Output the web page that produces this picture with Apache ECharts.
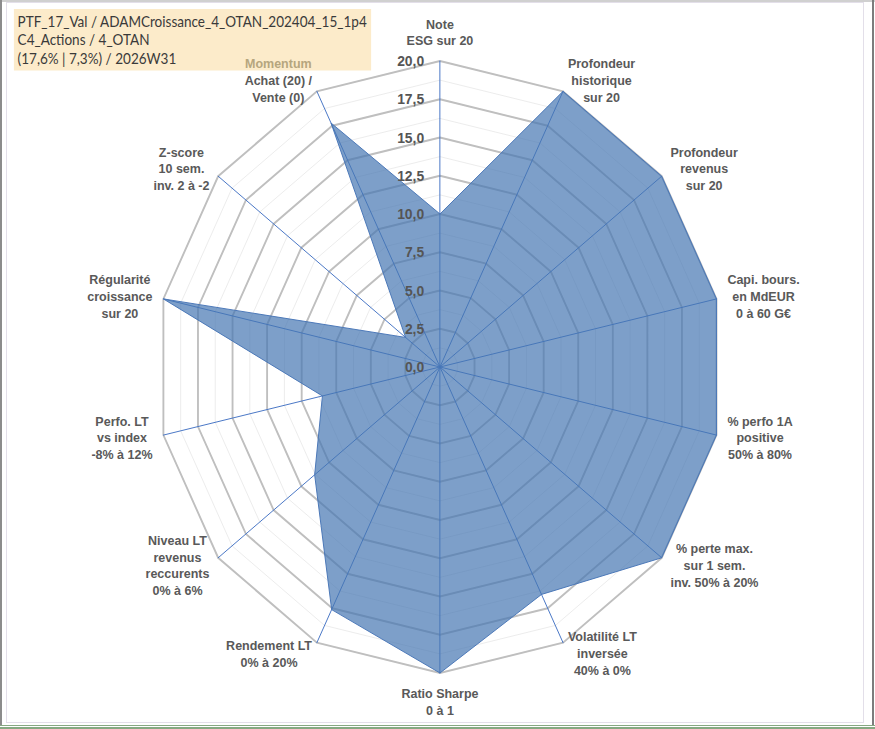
<!DOCTYPE html>
<html>
<head>
<meta charset="utf-8">
<script src="https://cdn.jsdelivr.net/npm/echarts@6.0.0/dist/echarts.min.js"></script>
<style>
html, body { margin: 0; padding: 0; background: #fff; overflow: hidden; }
#frame { position: relative; width: 875px; height: 729px; overflow: hidden; background: #fff; }
/* le graphique Excel d'origine est légèrement écrasé en largeur */
#radarChart { position: absolute; left: 0; top: 0; width: 944px; height: 729px; transform: scaleX(0.927); transform-origin: 0 0; }
.edge { position: absolute; pointer-events: none; box-sizing: border-box; }
</style>
</head>
<body>
<div id="frame">
	<div id="radarChart"></div>
	<div class="edge" style="left:6px;top:2px;width:858px;height:721px;border:1px solid #e3dfe9;"></div>
	<div class="edge" style="left:0;top:0;width:875px;height:2px;background:#d0d0d0;"></div>
	<div class="edge" style="left:0;top:0;width:2px;height:726px;background:#8c8c8c;"></div>
	<div class="edge" style="left:872px;top:0;width:2px;height:726px;background:#7c7c7c;"></div>
	<div class="edge" style="left:0;top:725px;width:875px;height:1px;background:#86a982;"></div>
	<div class="edge" style="left:0;top:727px;width:875px;height:2px;background:#86a982;"></div>
</div>
<script>
// cartouche du titre
var titleLines = [
	'PTF_17_Val / ADAMCroissance_4_OTAN_202404_15_1p4',
	'C4_Actions / 4_OTAN',
	'(17,6% | 7,3%) / 2026W31'
];
// axes du radar, dans l'ordre Excel (sens horaire depuis le haut)
var axisNames = [
	'Note\nESG sur 20',
	'Profondeur\nhistorique\nsur 20',
	'Profondeur\nrevenus\nsur 20',
	'Capi. bours.\nen MdEUR\n0 à 60 G€',
	'% perfo 1A\npositive\n50% à 80%',
	'% perte max.\nsur 1 sem.\ninv. 50% à 20%',
	'Volatilité LT\ninversée\n40% à 0%',
	'Ratio Sharpe\n0 à 1',
	'Rendement LT\n0% à 20%',
	'Niveau LT\nrevenus\nreccurents\n0% à 6%',
	'Perfo. LT\nvs index\n-8% à 12%',
	'Régularité\ncroissance\nsur 20',
	'Z-score\n10 sem.\ninv. 2 à -2',
	'Momentum\nAchat (20) /\nVente (0)'
];
// notes sur 20
var scores = [10, 20, 20, 20, 20, 20, 16.5, 20, 17.6, 11.3, 8.5, 20, 3.1, 17.7];
var axisMin = 0;
var axisMax = 20;
var majorSplits = 8;   // pas de 2,5
var minorSplits = 16;  // lignes fines intermédiaires

// ECharts tourne en sens anti-horaire : on garde le premier axe et on inverse le reste
function toCcw(arr) {
	return [arr[0]].concat(arr.slice(1).reverse());
}
var names = toCcw(axisNames);
var values = toCcw(scores);

var CX = 474.6, CY = 367, R = 306;

var tickLabelStyle = {
	show : true,
	margin : 17,
	color : '#555555',
	fontFamily : 'Liberation Sans',
	fontSize : 15,
	fontWeight : 'bold',
	formatter : function(v) {
		return Number(v).toFixed(1).replace('.', ',');
	}
};

var indicators = names.map(function(n) {
	return { name : n, min : axisMin, max : axisMax };
});
var blankIndicators = names.map(function() {
	return { name : '', min : axisMin, max : axisMax };
});
// seul l'axe du haut porte les graduations
var labelIndicators = names.map(function(n, i) {
	var ind = { name : '', min : axisMin, max : axisMax };
	if (i === 0) {
		ind.axisLabel = tickLabelStyle;
	}
	return ind;
});

function nameFormatter(name) {
	return name.split('\n').map(function(line) {
		return (line === 'Momentum' ? '{m|' : '{c|') + line + '}';
	}).join('\n');
}

var chart = echarts.init(document.getElementById('radarChart'), null, { renderer : 'svg' });

chart.setOption({
	animation : false,
	title : {
		text : titleLines.join('\n'),
		left : 15,
		top : 9,
		z : -1,
		padding : [ 3, 4, 3, 4 ],
		backgroundColor : '#fcebca',
		textStyle : {
			fontFamily : 'Lato',
			fontSize : 14.6,
			fontWeight : 'normal',
			color : '#3a3a3a',
			lineHeight : 18.5
		}
	},
	radar : [ {
		// lignes fines
		indicator : blankIndicators,
		center : [ CX, CY ],
		radius : R,
		startAngle : 90,
		shape : 'polygon',
		splitNumber : minorSplits,
		axisName : { show : false },
		axisLine : { show : false },
		axisTick : { show : false },
		axisLabel : { show : false },
		splitArea : { show : false },
		splitLine : { lineStyle : { color : '#ebebeb', width : 1 } }
	}, {
		// anneaux principaux, rayons et noms des axes
		indicator : indicators,
		center : [ CX, CY ],
		radius : R,
		startAngle : 90,
		shape : 'polygon',
		splitNumber : majorSplits,
		nameGap : 12,
		axisName : {
			color : '#595959',
			fontFamily : 'Liberation Sans',
			fontSize : 13.5,
			fontWeight : 'bold',
			lineHeight : 16.7,
			formatter : nameFormatter,
			rich : {
				c : { align : 'center', color : '#595959', fontFamily : 'Liberation Sans', fontSize : 13.5, fontWeight : 'bold', lineHeight : 16.7 },
				m : { align : 'center', color : '#b6a67e', fontFamily : 'Liberation Sans', fontSize : 13.5, fontWeight : 'bold', lineHeight : 16.7 }
			}
		},
		axisLine : { lineStyle : { color : '#4472c4', width : 1 } },
		axisTick : { show : false },
		axisLabel : { show : false },
		splitArea : { show : false },
		splitLine : { lineStyle : { color : '#bfbfbf', width : 2 } }
	}, {
		// graduations par-dessus la surface
		indicator : labelIndicators,
		center : [ CX, CY ],
		radius : R,
		startAngle : 90,
		shape : 'polygon',
		splitNumber : majorSplits,
		z : 5,
		axisName : { show : false },
		axisLine : { show : false },
		axisTick : { show : false },
		splitArea : { show : false },
		splitLine : { show : false },
		axisLabel : { show : false }
	} ],
	series : [ {
		type : 'radar',
		radarIndex : 1,
		symbol : 'none',
		lineStyle : { color : '#4a76b9', width : 1 },
		areaStyle : {
			color : 'rgba(70,118,178,0.7)',
			opacity : 1
		},
		data : [ { name : 'Score', value : values } ]
	} ]
});
</script>
</body>
</html>
